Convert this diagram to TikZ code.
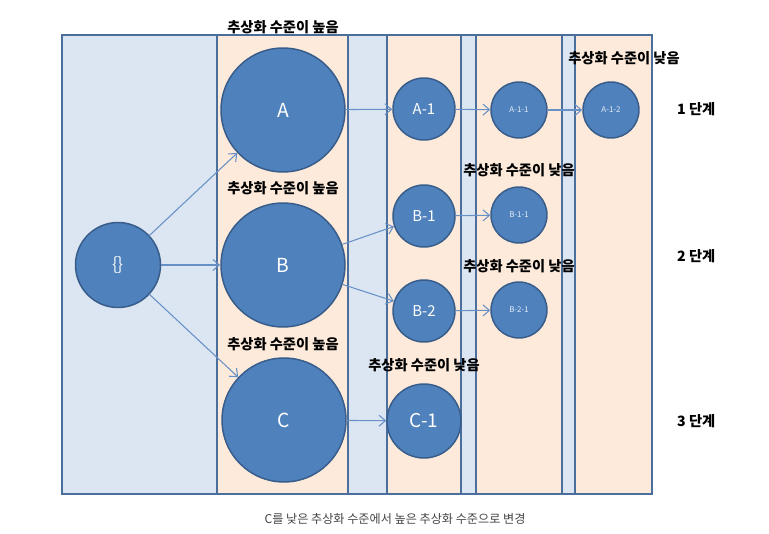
\documentclass[tikz,border=0pt]{standalone}
\usepackage{fontspec}
\setmainfont{Noto Sans CJK KR}
\usetikzlibrary{positioning,arrows.meta}

\definecolor{panelblue}{HTML}{DCE6F2}
\definecolor{panelorange}{HTML}{FDEADA}
\definecolor{frameblue}{HTML}{4A6F9C}
\definecolor{nodeblue}{HTML}{4F81BD}
\definecolor{nodeedge}{HTML}{385D8A}
\definecolor{linkblue}{HTML}{6690C6}
\definecolor{captiongray}{HTML}{444444}

\begin{document}
\begin{tikzpicture}[
        x=0.02cm, y=-0.02cm,
        >={Straight Barb[length=1.3mm,width=2.2mm]},
        panel/.style={draw=frameblue, line width=1.1pt},
        ball/.style={circle, draw=nodeedge, line width=0.85pt, fill=nodeblue,
                     text=white, inner sep=0pt},
        rootball/.style={ball, minimum size=1.7cm, text=white!90!nodeblue,
                         font=\fontsize{10}{12}\selectfont},
        bigball/.style={ball, minimum size=2.48cm, font=\fontsize{11}{13}\selectfont},
        midball/.style={ball, minimum size=1.24cm, font=\fontsize{8.5}{10}\selectfont},
        smallball/.style={ball, minimum size=1.12cm, text=white!85!nodeblue,
                          font=\fontsize{4.5}{5}\selectfont},
        levellabel/.style={font=\fontsize{8.1}{10}\selectfont\bfseries},
        link/.style={->, draw=linkblue, line width=0.6pt},
    ]
    \useasboundingbox (0,0) rectangle (769,534);
    \foreach \xa/\xb/\col in {62/217/panelblue, 217/348/panelorange, 348/387/panelblue,
                              387/461/panelorange, 461/476/panelblue, 476/562/panelorange,
                              562/575/panelblue, 575/652/panelorange} {
        \filldraw[panel, fill=\col] (\xa,35) rectangle (\xb,494);
    }

    \node[rootball] (root) at (118,265) {\{\}};
    \node[bigball] (a) at (283,110) {A};
    \node[bigball] (b) at (283,265) {B};
    \node[bigball] (c) at (284,420) {C};
    \node[midball] (a1) at (424,109) {A-1};
    \node[midball] (b1) at (424,216) {B-1};
    \node[midball] (b2) at (424,311) {B-2};
    \node[ball, minimum size=1.48cm, font=\fontsize{10.8}{12}\selectfont] (c1) at (424,421) {C-1};
    \node[smallball] (a11) at (519,110) {A-1-1};
    \node[smallball] (a12) at (611,110) {A-1-2};
    \node[smallball] (b11) at (519,215) {B-1-1};
    \node[smallball] (b21) at (519,310) {B-2-1};

    \draw[link] (root) -- (a);
    \draw[link] (root) -- (b);
    \draw[link] (root) -- (c);
    \draw[link] (a) -- (a1);
    \draw[link] (b) -- (b1);
    \draw[link] (b) -- (b2);
    \draw[link] (c) -- (c1);
    \draw[link] (a1) -- (a11);
    \draw[link] (a11) -- (a12);
    \draw[link] (b1) -- (b11);
    \draw[link] (b2) -- (b21);

    \node[levellabel] (hia) at (283,27) {추상화 수준이 높음};
    \node[levellabel] (hib) at (283,188) {추상화 수준이 높음};
    \node[levellabel] (hic) at (283,344) {추상화 수준이 높음};
    \node[levellabel] (loa) at (624,58) {추상화 수준이 낮음};
    \node[levellabel] (lob) at (519,170) {추상화 수준이 낮음};
    \node[levellabel] (loc) at (519,266) {추상화 수준이 낮음};
    \node[levellabel] (lod) at (424,365) {추상화 수준이 낮음};

    \foreach \y/\n in {109/1, 256/2, 421/3} {
        \node[levellabel, anchor=west] (step\n) at (671,\y) {\n{} 단계};
    }

    \node[font=\fontsize{6.9}{8}\selectfont, text=captiongray] (caption) at (395,519)
        {C를 낮은 추상화 수준에서 높은 추상화 수준으로 변경};
\end{tikzpicture}
\end{document}
